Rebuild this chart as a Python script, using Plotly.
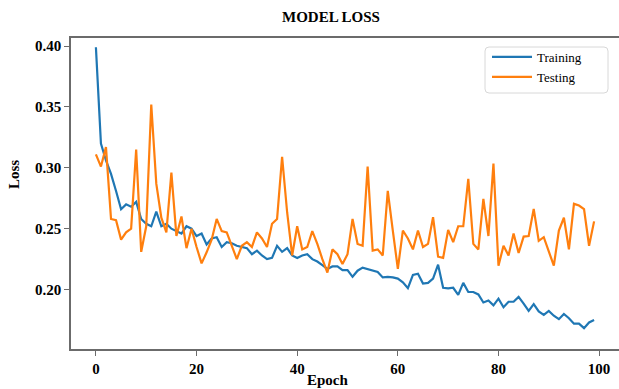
import plotly.graph_objects as go

epochs = list(range(100))

training_loss = [
    0.399, 0.320, 0.306, 0.295, 0.281, 0.266, 0.270, 0.268, 0.272, 0.258,
    0.254, 0.252, 0.264, 0.252, 0.254, 0.250, 0.248, 0.246, 0.252, 0.250,
    0.244, 0.246, 0.237, 0.242, 0.243, 0.235, 0.239, 0.238, 0.236, 0.235,
    0.234, 0.229, 0.232, 0.228, 0.225, 0.226, 0.236, 0.231, 0.234, 0.228,
    0.226, 0.228, 0.229, 0.225, 0.223, 0.220, 0.217, 0.219, 0.219, 0.216,
    0.216, 0.2105, 0.2155, 0.218, 0.217, 0.2155, 0.2145, 0.210, 0.2105, 0.210,
    0.209, 0.206, 0.2012, 0.212, 0.213, 0.205, 0.2055, 0.209, 0.2204, 0.2015,
    0.201, 0.2015, 0.1957, 0.2055, 0.198, 0.198, 0.196, 0.1894, 0.191, 0.187,
    0.1925, 0.1855, 0.190, 0.190, 0.194, 0.1885, 0.1825, 0.188, 0.182, 0.1792,
    0.1825, 0.1785, 0.1757, 0.180, 0.1765, 0.172, 0.172, 0.1683, 0.173, 0.175,
]

testing_loss = [
    0.311, 0.301, 0.317, 0.258, 0.257, 0.241, 0.247, 0.250, 0.315, 0.231,
    0.252, 0.352, 0.287, 0.259, 0.247, 0.296, 0.244, 0.260, 0.234, 0.250,
    0.235, 0.2215, 0.2306, 0.241, 0.258, 0.248, 0.247, 0.236, 0.225, 0.236,
    0.239, 0.235, 0.247, 0.242, 0.235, 0.254, 0.258, 0.309, 0.2635, 0.228,
    0.252, 0.233, 0.235, 0.248, 0.2375, 0.225, 0.214, 0.233, 0.229, 0.221,
    0.229, 0.258, 0.2375, 0.236, 0.301, 0.232, 0.233, 0.228, 0.281, 0.2485,
    0.217, 0.2485, 0.242, 0.233, 0.2485, 0.235, 0.2375, 0.2594, 0.227, 0.226,
    0.249, 0.239, 0.252, 0.252, 0.291, 0.2375, 0.233, 0.2745, 0.244, 0.3034,
    0.2196, 0.236, 0.228, 0.246, 0.230, 0.2435, 0.244, 0.2663, 0.240, 0.243,
    0.232, 0.2196, 0.2485, 0.259, 0.233, 0.2704, 0.269, 0.266, 0.236, 0.256,
]

x_ticks = [0, 20, 40, 60, 80, 100]
y_ticks = [0.20, 0.25, 0.30, 0.35, 0.40]
y_tick_labels = ["0.20", "0.25", "0.30", "0.35", "0.40"]

SERIF = "Liberation Serif, Times New Roman, serif"
AXIS_COLOR = "#6b6b6b"

# plot-area geometry (pixels)
W, H = 619, 389
ML, MR, MT, MB = 71, 0, 38, 40
PW, PH = W - ML - MR, H - MT - MB


def px2x(px):
    return (px - ML) / PW


def py2y(py):
    return (H - MB - py) / PH


fig = go.Figure()
fig.add_trace(go.Scatter(x=epochs, y=training_loss, mode="lines", name="Training",
                         line=dict(color="#1f77b4", width=2.2)))
fig.add_trace(go.Scatter(x=epochs, y=testing_loss, mode="lines", name="Testing",
                         line=dict(color="#ff7f0e", width=2.2)))

# rounded legend frame
x0, x1 = px2x(485), px2x(608)
y0, y1 = py2y(93), py2y(47)
rx, ry = 4 / PW, 4 / PH
path = (f"M {x0+rx},{y1} L {x1-rx},{y1} Q {x1},{y1} {x1},{y1-ry} "
        f"L {x1},{y0+ry} Q {x1},{y0} {x1-rx},{y0} L {x0+rx},{y0} "
        f"Q {x0},{y0} {x0},{y0+ry} L {x0},{y1-ry} Q {x0},{y1} {x0+rx},{y1} Z")
fig.add_shape(type="path", path=path, xref="paper", yref="paper",
              line=dict(color="#d8d8d8", width=1), fillcolor="white", layer="below")

fig.update_layout(
    width=W, height=H, autosize=False,
    margin=dict(l=ML, r=MR, t=MT, b=MB, pad=0, autoexpand=False),
    paper_bgcolor="white", plot_bgcolor="rgba(0,0,0,0)",
    legend=dict(x=px2x(487), y=py2y(42), xanchor="left", yanchor="top",
                bgcolor="rgba(0,0,0,0)", borderwidth=0, itemwidth=40,
                font=dict(family=SERIF, size=13, color="black")),
    showlegend=True,
    annotations=[
        dict(text="<b>MODEL LOSS</b>", x=px2x(331), y=py2y(17), xref="paper", yref="paper",
             xanchor="center", yanchor="middle", showarrow=False,
             font=dict(family=SERIF, size=15, color="black")),
        dict(text="<b>Epoch</b>", x=px2x(328), y=py2y(380), xref="paper", yref="paper",
             xanchor="center", yanchor="middle", showarrow=False,
             font=dict(family=SERIF, size=15, color="black")),
        dict(text="<b>Loss</b>", x=px2x(14), y=py2y(175), xref="paper", yref="paper",
             xanchor="center", yanchor="middle", showarrow=False, textangle=-90,
             font=dict(family=SERIF, size=15, color="black")),
    ],
)

fig.update_xaxes(
    range=[-4.95, 103.95], tickvals=x_ticks, ticktext=[f"<b>{v}</b>" for v in x_ticks],
    showgrid=False, zeroline=False, automargin=False,
    showline=True, linecolor=AXIS_COLOR, linewidth=1.5, mirror=True,
    ticks="outside", ticklen=5, tickwidth=1, tickcolor=AXIS_COLOR,
    tickfont=dict(family=SERIF, size=15, color="black"),
)
fig.update_yaxes(
    range=[0.1512, 0.4066], tickvals=y_ticks, ticktext=[f"<b>{t}</b>" for t in y_tick_labels],
    showgrid=False, zeroline=False, automargin=False,
    showline=True, linecolor=AXIS_COLOR, linewidth=1.5, mirror=False,
    ticks="outside", ticklen=5, tickwidth=1, tickcolor=AXIS_COLOR,
    tickfont=dict(family=SERIF, size=15, color="black"),
)

fig.write_html(
    "out.html",
    config={"displayModeBar": False},
    post_script="document.body.style.margin='0';document.body.style.overflow='hidden';",
)
